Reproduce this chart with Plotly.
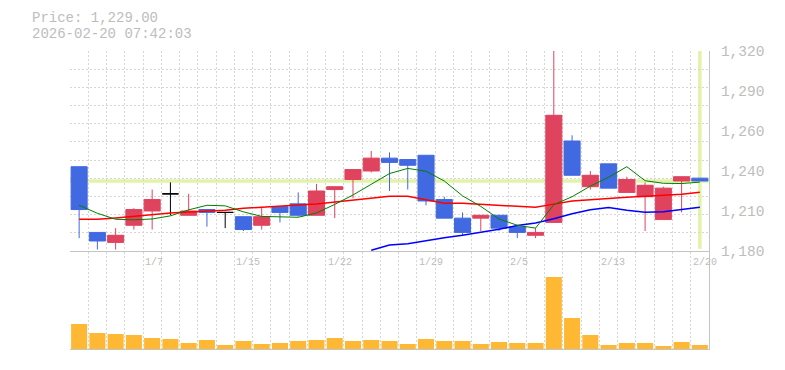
import plotly.graph_objects as go

# ---------------- data ----------------
dates = ["12/29", "12/30", "1/5", "1/6", "1/7", "1/8", "1/9", "1/13", "1/14", "1/15",
         "1/16", "1/19", "1/20", "1/21", "1/22", "1/23", "1/26", "1/27", "1/28", "1/29",
         "1/30", "2/2", "2/3", "2/4", "2/5", "2/6", "2/9", "2/10", "2/12", "2/13",
         "2/16", "2/17", "2/18", "2/19", "2/20"]

opens = [1239, 1193, 1186, 1198, 1208, 1220, 1205, 1209, 1207, 1204,
         1198, 1211, 1213, 1205, 1223, 1230, 1236, 1245, 1244, 1247,
         1216, 1203, 1203, 1205, 1197, 1191, 1200, 1257, 1225, 1241,
         1221, 1218, 1202, 1229, 1231]
highs = [1239, 1193, 1196, 1210, 1223, 1228, 1220, 1209, 1207, 1204,
         1211, 1211, 1221, 1227, 1225, 1237, 1250, 1249, 1244, 1247,
         1218, 1207, 1205, 1205, 1197, 1196, 1320, 1261, 1236, 1241,
         1232, 1228, 1225, 1232, 1231]
lows = [1189, 1181, 1181, 1195, 1195, 1205, 1205, 1197, 1196, 1194,
        1195, 1200, 1204, 1205, 1203, 1217, 1235, 1222, 1223, 1212,
        1203, 1191, 1194, 1194, 1189, 1189, 1200, 1233, 1223, 1224,
        1221, 1194, 1202, 1207, 1229]
closes = [1209, 1187, 1191, 1209, 1216, 1220, 1208, 1207, 1207, 1195,
          1204, 1207, 1205, 1222, 1225, 1237, 1245, 1242, 1240, 1215,
          1203, 1193, 1205, 1196, 1193, 1193, 1275, 1233, 1233, 1224,
          1230, 1226, 1224, 1232, 1229]
volumes = [2500, 1600, 1500, 1400, 1100, 1000, 600, 900, 400, 800,
           500, 600, 800, 900, 1100, 800, 900, 800, 500, 1000,
           800, 800, 500, 700, 600, 600, 7200, 3100, 1400, 400,
           600, 600, 300, 700, 400]

ma_short = [1212.0, 1206.4, 1202.2, 1201.8, 1202.4, 1204.6, 1208.8, 1212.0, 1211.6, 1207.4,
            1204.2, 1204.0, 1203.6, 1206.6, 1212.6, 1219.2, 1226.8, 1234.2, 1237.8, 1235.8,
            1229.0, 1218.6, 1211.2, 1202.4, 1198.0, 1196.0, 1212.4, 1218.0, 1225.4, 1231.6,
            1239.0, 1229.2, 1227.4, 1227.2, 1228.2]
ma_mid = [1202.2, 1202.2, 1203.1, 1204.3, 1205.7, 1206.6, 1207.3, 1207.8, 1208.5, 1209.9,
          1210.8, 1211.5, 1212.2, 1212.9, 1214.3, 1215.7, 1217.4, 1218.3, 1218.3, 1216.0,
          1213.5, 1213.4, 1212.7, 1212.0, 1211.3, 1210.6, 1212.8, 1215.0, 1215.8, 1216.9,
          1217.6, 1218.3, 1219.0, 1219.7, 1221.1]
ma_long = [None] * 16 + [1180.5, 1184.2, 1185.0, 1187.3, 1189.3, 1191.0, 1193.0, 1195.2,
                         1197.8, 1199.6, 1202.6, 1206.1, 1208.9, 1210.5, 1208.5, 1207.1,
                         1207.5, 1208.8, 1210.6]

price_ticks = [1180, 1208, 1236, 1264, 1292, 1320]
price_tick_text = ["1,180", "1,210", "1,240", "1,260", "1,290", "1,320"]
label_start = 4
label_every = 5
quote_time = "2026-02-20 07:42:03"

# ---------------- styling ----------------
UP = "#e0435e"
DOWN = "#4169e1"
FLAT = "#000000"
VOL = "#ffb833"
CUR = "#e2f3a8"
GRID = "#d6d6d6"
AXIS = "#c4c4c4"
TXT = "#bdbdbd"
MONO = "Liberation Mono, DejaVu Sans Mono, monospace"

n = len(dates)
idx = list(range(n))
p_lo, p_hi = price_ticks[0], price_ticks[-1]

fig = go.Figure()

# current price crosshair (behind everything)
fig.add_shape(type="line", xref="x", yref="y", x0=-0.5, x1=n - 0.5,
              y0=closes[-1], y1=closes[-1], line=dict(color=CUR, width=3.5), layer="below")
fig.add_shape(type="line", xref="x", yref="y", x0=idx[-1], x1=idx[-1],
              y0=p_lo + 1.5, y1=p_hi, line=dict(color=CUR, width=3.5), layer="below")

# moving averages
for vals, col, w in [(ma_long, "#0000ff", 1.5), (ma_mid, "#ff0000", 1.5), (ma_short, "#008000", 1.0)]:
    fig.add_trace(go.Scatter(x=idx, y=vals, mode="lines", line=dict(color=col, width=w),
                             connectgaps=False, hoverinfo="skip", showlegend=False,
                             xaxis="x", yaxis="y"))

# candles in three colour groups
groups = [
    ([i for i in idx if closes[i] > opens[i]], UP),
    ([i for i in idx if closes[i] < opens[i]], DOWN),
    ([i for i in idx if closes[i] == opens[i]], FLAT),
]
for sel, col in groups:
    fig.add_trace(go.Candlestick(
        x=[idx[i] for i in sel],
        open=[opens[i] for i in sel], high=[highs[i] for i in sel],
        low=[lows[i] for i in sel], close=[closes[i] for i in sel],
        increasing=dict(line=dict(color=col, width=1), fillcolor=col),
        decreasing=dict(line=dict(color=col, width=1), fillcolor=col),
        whiskerwidth=0, hoverinfo="skip", showlegend=False, xaxis="x", yaxis="y"))

# volume
fig.add_trace(go.Bar(x=idx, y=volumes, width=0.88, marker=dict(color=VOL, line=dict(width=0)),
                     hoverinfo="skip", showlegend=False, xaxis="x2", yaxis="y2"))

bounds = [i - 0.5 for i in range(n + 1)]
grid_vals = [p_lo + k * (p_hi - p_lo) / 11 for k in range(12)]

xcommon = dict(range=[-0.5, n - 0.5], tickmode="array", tickvals=bounds, showticklabels=False,
               ticks="", showgrid=True, gridcolor=GRID, griddash="2px,2px", gridwidth=1,
               showline=True, linecolor=AXIS, linewidth=1, zeroline=False, fixedrange=True)

# the page body adds an 8px margin, so the figure is 8px smaller on each axis
fig.update_layout(
    width=777, height=362,
    margin=dict(l=62, r=76, t=43, b=21),
    paper_bgcolor="white", plot_bgcolor="white",
    showlegend=False, hovermode=False,
    boxgap=0.12, boxgroupgap=0, bargap=0.12,
    xaxis=dict(domain=[0, 1], anchor="y", rangeslider=dict(visible=False), **xcommon),
    xaxis2=dict(domain=[0, 1], anchor="y2", **xcommon),
    yaxis=dict(domain=[0.3289, 1], anchor="x", range=[p_lo, p_hi], side="right",
               tickmode="array", tickvals=price_ticks, ticktext=price_tick_text,
               showgrid=False, ticks="", ticklabelstandoff=8,
               minor=dict(tickmode="array", tickvals=grid_vals, showgrid=True,
                          gridcolor=GRID, griddash="2px,2px", gridwidth=1),
               showline=True, linecolor=AXIS, linewidth=1, zeroline=False,
               tickfont=dict(family=MONO, size=14.5, color=TXT), fixedrange=True),
    yaxis2=dict(domain=[0, 0.3255], anchor="x2", range=[0, 9700], side="right",
                showticklabels=False, showgrid=False, ticks="", showline=True,
                linecolor=AXIS, linewidth=1, zeroline=False, fixedrange=True),
)

# date labels, left-aligned on the candle boundary
for i in range(label_start, n, label_every):
    fig.add_annotation(x=i - 0.5, xref="x", y=0.2919, yref="paper", text=dates[i],
                       showarrow=False, xanchor="left", yanchor="middle", xshift=0,
                       font=dict(family=MONO, size=10, color=TXT))

# header text
fig.add_annotation(x=-40 / 639, xref="paper", y=1 + (51 - 17.5) / 298, yref="paper",
                   text=f"Price: {closes[-1]:,.2f}", showarrow=False,
                   xanchor="left", yanchor="middle", font=dict(family=MONO, size=14, color=TXT))
fig.add_annotation(x=-40 / 639, xref="paper", y=1 + (51 - 33.5) / 298, yref="paper",
                   text=quote_time, showarrow=False,
                   xanchor="left", yanchor="middle", font=dict(family=MONO, size=14, color=TXT))

fig.write_html("out.html", config={"displayModeBar": False})
